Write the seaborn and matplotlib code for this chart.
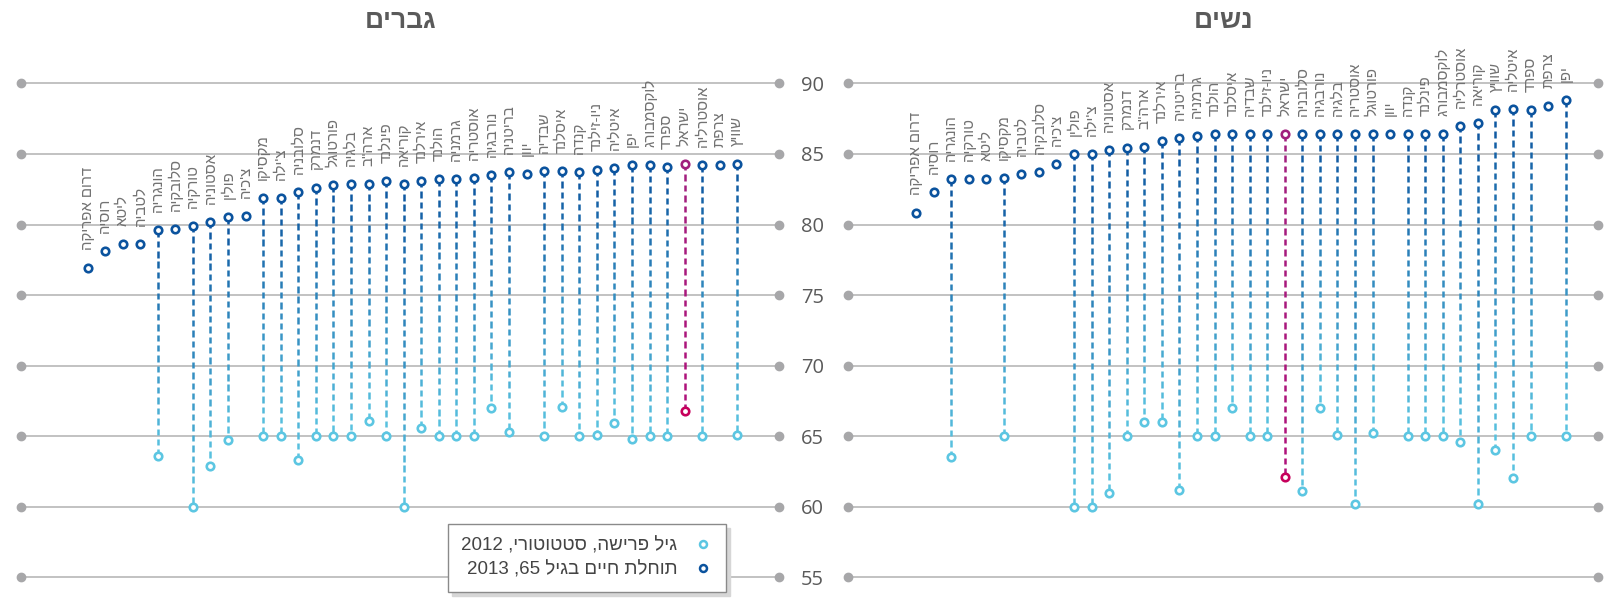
import re
import numpy as np
import pandas as pd
import matplotlib
matplotlib.use("Agg")
import matplotlib.pyplot as plt
from matplotlib.collections import LineCollection
from matplotlib.lines import Line2D
import matplotlib.colors as mcolors
import seaborn as sns

nan = np.nan

# ---------------- data ----------------
men_countries = ['דרום אפריקה', 'רוסיה', 'ליטא', 'לטביה', 'הונגריה', 'סלובקיה', 'טורקיה',
                 'אסטוניה', 'פולין', "צ'כיה", 'מקסיקו', "צ'ילה", 'סלובניה', 'דנמרק',
                 'פורטוגל', 'בלגיה', 'ארה"ב', 'פינלנד', 'קוריאה', 'אירלנד', 'הולנד',
                 'גרמניה', 'אוסטריה', 'נורבגיה', 'בריטניה', 'יוון', 'שבדיה', 'איסלנד',
                 'קנדה', 'ניו-זילנד', 'איטליה', 'יפן', 'לוקסמבורג', 'ספרד', 'ישראל',
                 'אוסטרליה', 'צרפת', 'שוויץ']
men_life65 = [76.9, 78.1, 78.6, 78.6, 79.6, 79.7, 79.9, 80.2, 80.5, 80.6, 81.9, 81.9, 82.3,
              82.6, 82.8, 82.9, 82.9, 83.1, 82.9, 83.1, 83.2, 83.2, 83.3, 83.5, 83.7, 83.6,
              83.8, 83.8, 83.7, 83.9, 84.0, 84.2, 84.2, 84.1, 84.3, 84.2, 84.2, 84.3]
men_retire = [nan, nan, nan, nan, 63.6, nan, 60.0, 62.9, 64.7, nan, 65.0, 65.0, 63.3, 65.0,
              65.0, 65.0, 66.1, 65.0, 60.0, 65.6, 65.0, 65.0, 65.0, 67.0, 65.3, nan, 65.0,
              67.1, 65.0, 65.1, 65.9, 64.8, 65.0, 65.0, 66.8, 65.0, nan, 65.1]

women_countries = ['דרום אפריקה', 'רוסיה', 'הונגריה', 'טורקיה', 'ליטא', 'מקסיקו', 'לטביה',
                   'סלובקיה', "צ'כיה", 'פולין', "צ'ילה", 'אסטוניה', 'דנמרק', 'ארה"ב',
                   'אירלנד', 'בריטניה', 'גרמניה', 'הולנד', 'איסלנד', 'שבדיה', 'ניו-זילנד',
                   'ישראל', 'סלובניה', 'נורבגיה', 'בלגיה', 'אוסטריה', 'פורטוגל', 'יוון',
                   'קנדה', 'פינלנד', 'לוקסמבורג', 'אוסטרליה', 'קוריאה', 'שוויץ', 'איטליה',
                   'ספרד', 'צרפת', 'יפן']
women_life65 = [80.8, 82.3, 83.2, 83.2, 83.2, 83.3, 83.6, 83.7, 84.3, 85.0, 85.0, 85.3, 85.4,
                85.5, 85.9, 86.1, 86.3, 86.4, 86.4, 86.4, 86.4, 86.4, 86.4, 86.4, 86.4, 86.4,
                86.4, 86.4, 86.4, 86.4, 86.4, 87.0, 87.2, 88.1, 88.2, 88.1, 88.4, 88.8]
women_retire = [nan, nan, 63.5, nan, nan, 65.0, nan, nan, nan, 60.0, 60.0, 61.0, 65.0, 66.0,
                66.0, 61.2, 65.0, 65.0, 67.0, 65.0, 65.0, 62.1, 61.1, 67.0, 65.1, 60.2, 65.2,
                nan, 65.0, 65.0, 65.0, 64.6, 60.2, 64.0, 62.0, 65.0, nan, 65.0]

y_ticks = [55, 60, 65, 70, 75, 80, 85, 90]
panel_titles = ['גברים', 'נשים']
legend_labels = ['גיל פרישה, סטטוטורי, 2012', 'תוחלת חיים בגיל 65, 2013']
highlight = 'ישראל'

# ---------------- style ----------------
DARK = '#0b539e'
LIGHT = '#5cc6e2'
HL_TOP = '#a11f7e'
HL_BOT = '#c6005c'
GRID = '#b8b8b8'
GRID_DOT = '#a7a7a9'
TXT = '#5a5a5a'

sns.set_theme(style='white')
plt.rcParams['font.family'] = ['Liberation Sans', 'DejaVu Sans']


def vis(s):
    """Logical Hebrew -> visual order (matplotlib has no bidi)."""
    r = s[::-1]
    return re.sub(r'\d+', lambda m: m.group(0)[::-1], r)


def mix(c1, c2, t):
    a = np.array(mcolors.to_rgb(c1))
    b = np.array(mcolors.to_rgb(c2))
    return tuple(a * (1 - t) + b * t)


fig = plt.figure(figsize=(16.16, 6.0), dpi=100)
W, H = 1616, 600
y_bot_px, y_top_px = 577.2, 83.45
ax_h = (y_bot_px - y_top_px) / H
ax_b = 1 - y_bot_px / H

ax_m = fig.add_axes([21.3 / W, ax_b, (779 - 21.3) / W, ax_h])
ax_w = fig.add_axes([847.7 / W, ax_b, (1597.7 - 847.7) / W, ax_h])

panels = [
    (ax_m, men_countries, men_life65, men_retire, (-3.77, 39.37)),
    (ax_w, women_countries, women_life65, women_retire, (-3.89, 38.82)),
]

for ax, countries, life, ret, xlim in panels:
    n = len(countries)
    df = pd.DataFrame({'pos': np.arange(n), 'country': countries,
                       'life': life, 'retire': ret})
    df['hl'] = df['country'] == highlight
    ax.set_xlim(*xlim)
    ax.set_ylim(55, 90)
    for s in ax.spines.values():
        s.set_visible(False)
    ax.set_xticks([])
    ax.set_yticks(y_ticks)
    ax.grid(False)

    # grid lines with end dots
    for v in y_ticks:
        ax.plot([xlim[0], xlim[1]], [v, v], color=GRID, lw=1.2, zorder=0,
                marker='o', ms=6, mfc=GRID_DOT, mec=GRID_DOT, clip_on=False)

    # gradient dashed connectors
    segs, cols = [], []
    on, period = 0.46, 0.74
    for _, r in df.dropna(subset=['retire']).iterrows():
        top, bot = r['life'], r['retire']
        ctop, cbot = (HL_TOP, '#b0107a') if r['hl'] else (DARK, LIGHT)
        y = top
        while y > bot:
            y2 = max(y - on, bot)
            t = (top - (y + y2) / 2) / (top - bot)
            segs.append([(r['pos'], y), (r['pos'], y2)])
            cols.append(mix(ctop, cbot, t))
            y -= period
    ax.add_collection(LineCollection(segs, colors=cols, linewidths=1.8, zorder=2,
                                     capstyle='butt'))

    norm = df[~df['hl']]
    hl = df[df['hl']]
    ms = 29
    sns.scatterplot(data=norm.dropna(subset=['retire']), x='pos', y='retire', ax=ax,
                    color=LIGHT, facecolor='white', edgecolor=LIGHT, s=ms,
                    linewidth=1.9, zorder=3, legend=False, clip_on=False)
    sns.scatterplot(data=norm, x='pos', y='life', ax=ax,
                    color=DARK, facecolor='white', edgecolor=DARK, s=ms,
                    linewidth=1.9, zorder=4, legend=False, clip_on=False)
    sns.scatterplot(data=hl.dropna(subset=['retire']), x='pos', y='retire', ax=ax,
                    color=HL_BOT, facecolor='white', edgecolor=HL_BOT, s=ms,
                    linewidth=1.9, zorder=3, legend=False, clip_on=False)
    sns.scatterplot(data=hl, x='pos', y='life', ax=ax,
                    color=HL_TOP, facecolor='white', edgecolor=HL_TOP, s=ms,
                    linewidth=1.9, zorder=4, legend=False, clip_on=False)
    ax.set_xlabel('')
    ax.set_ylabel('')
    ax.set_xlim(*xlim)
    ax.set_ylim(55, 90)

    # country labels
    for _, r in df.iterrows():
        ax.annotate(vis(r['country']), (r['pos'], r['life']), xytext=(0, 13),
                    textcoords='offset points', rotation=90, ha='center', va='bottom',
                    fontsize=10.8, color='#727272', zorder=5, annotation_clip=False)

# axis tick labels: only between panels
ax_m.tick_params(axis='y', length=0, labelleft=False)
ax_w.tick_params(axis='y', length=0, pad=17, labelsize=14.5, labelcolor=TXT)
for lab in ax_w.get_yticklabels():
    lab.set_fontfamily(['Open Sans', 'DejaVu Sans'])

# titles
fig.text(401 / W, 1 - 21 / H, vis(panel_titles[0]), ha='center', va='center',
         fontsize=19, fontweight='bold', color=TXT)
fig.text(1224 / W, 1 - 21 / H, vis(panel_titles[1]), ha='center', va='center',
         fontsize=19, fontweight='bold', color=TXT)

# legend
handles = [
    Line2D([], [], ls='none', marker='o', ms=5, mfc='white', mec=LIGHT, mew=1.8),
    Line2D([], [], ls='none', marker='o', ms=5, mfc='white', mec=DARK, mew=1.8),
]
leg = ax_m.legend(handles, [vis(t) for t in legend_labels], markerfirst=False,
                  loc='center', bbox_to_anchor=(587 / W, 1 - 558 / H),
                  bbox_transform=fig.transFigure, fontsize=13.5, frameon=True,
                  fancybox=False, framealpha=1, edgecolor='#8a8a8a',
                  borderpad=0.7, handletextpad=0.9, labelspacing=0.35,
                  borderaxespad=0, handlelength=1.0,
                  shadow={'color': '#d6d6d6', 'alpha': 1, 'ox': 3, 'oy': -3})
leg.get_frame().set_linewidth(1.0)
for t in leg.get_texts():
    t.set_color('#444444')
leg.set_zorder(10)

fig.savefig('out.png', dpi=100)
